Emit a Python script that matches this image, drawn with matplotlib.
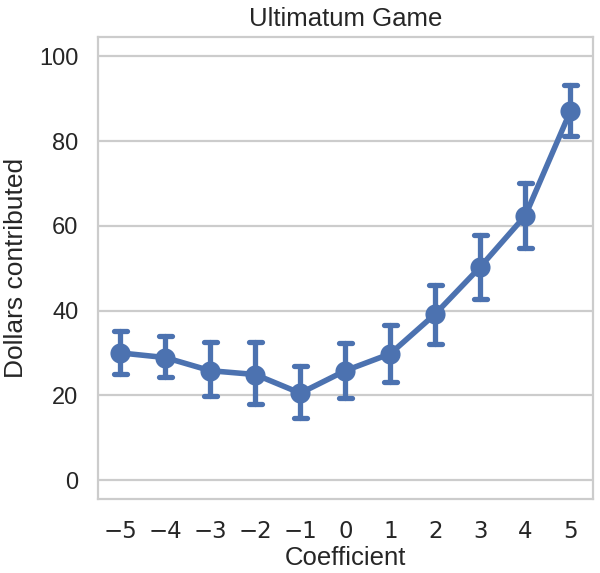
import numpy as np
import matplotlib
matplotlib.use('Agg')
import matplotlib.pyplot as plt

coef = [-5, -4, -3, -2, -1, 0, 1, 2, 3, 4, 5]
mean = [30.0, 28.9, 25.8, 24.9, 20.5, 25.8, 29.8, 39.2, 50.3, 62.4, 87.0]
lower = [25.0, 24.3, 19.8, 17.9, 14.6, 19.3, 23.1, 32.1, 42.8, 54.8, 81.1]
upper = [35.2, 34.0, 32.5, 32.5, 26.9, 32.4, 36.7, 46.0, 57.9, 70.2, 93.2]

blue = '#4c72b0'
grid = '#cccccc'
ink = '#262626'

plt.rcParams['font.family'] = ['Liberation Sans', 'DejaVu Sans']
plt.rcParams['text.color'] = ink
plt.rcParams['xtick.color'] = ink
plt.rcParams['ytick.color'] = ink
plt.rcParams['axes.labelcolor'] = ink

fig = plt.figure(figsize=(6, 5.73), dpi=100)
ax = fig.add_axes([0.163, 0.129, 0.825, 0.806])

x = np.array(coef, dtype=float)
ax.plot(x, mean, color=blue, lw=4, solid_capstyle='round', zorder=3)
ax.vlines(x, lower, upper, color=blue, lw=3.8, capstyle='round', zorder=3)
cap = 0.14
ax.hlines(lower, x - cap, x + cap, color=blue, lw=3.8, capstyle='round', zorder=3)
ax.hlines(upper, x - cap, x + cap, color=blue, lw=3.8, capstyle='round', zorder=3)
ax.scatter(x, mean, s=210, color=blue, zorder=4, linewidths=0)

ax.set_xlim(-5.5, 5.5)
ax.set_ylim(-4.5, 104.5)
ax.set_yticks([0, 20, 40, 60, 80, 100])
ax.set_xticks(coef)
ax.set_xticklabels(['\u2212%d' % -c if c < 0 else str(c) for c in coef],
                   family='DejaVu Sans', fontsize=16.5)
ax.tick_params(axis='y', labelsize=17, length=0, pad=14)
ax.tick_params(axis='x', length=0, pad=15)
ax.yaxis.grid(True, color=grid, lw=1.6)
ax.set_axisbelow(True)
for s in ax.spines.values():
    s.set_color(grid)
    s.set_linewidth(1.6)

ax.set_title('Ultimatum Game', fontsize=18.5, pad=8)
ax.set_xlabel('Coefficient', fontsize=18.5, labelpad=2)
ax.set_ylabel('Dollars contributed', fontsize=19, labelpad=8)

fig.savefig('out.png', dpi=100)
